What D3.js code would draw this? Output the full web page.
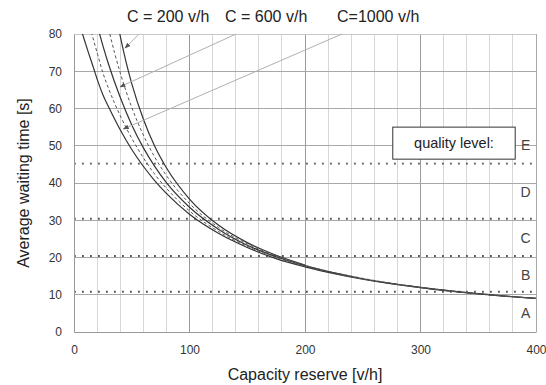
<!DOCTYPE html>
<html><head><meta charset="utf-8">
<script src="https://cdn.jsdelivr.net/npm/d3@7"></script>
<style>
html,body{margin:0;padding:0;background:#fff;}
svg{display:block;font-family:"Liberation Sans",Arial,sans-serif;}
</style></head>
<body><svg id="chart" width="546" height="385"></svg>
<script>
// ---- data ----
const xTicks = [0, 100, 200, 300, 400];
const yTicks = [0, 10, 20, 30, 40, 50, 60, 70, 80];
const xGrid = [20,40,60,80,100,120,140,160,180,200,220,240,260,280,300,320,340,360,380];
const yGrid = [10,20,30,40,50,60,70];
const levelLimits = [10.8, 20.4, 30.4, 45.2];
const levelNames = ["A","B","C","D","E"];
const levelPos = [5.2, 15.4, 25.2, 37.6, 50.2];
const titleLabels = ["C = 200 v/h", "C = 600 v/h", "C=1000 v/h"];

// solid curves: C = 200, 600, 1000 v/h ; dashed: C = 400, 800 v/h
const reserveC200 = [39,40,45,50,60,70,80,100,125,150,175,200];
const waitC200    = [81.0,79.5,72.6,66.7,57.2,49.8,44.1,35.7,28.7,24.0,20.6,18.0];
const reserveC400 = [31,35,40,50,60,70,80,100,125,150,175,200,250,300,350,400];
const waitC400    = [80.0,75.1,69.6,60.3,52.9,46.9,42.0,34.5,28.1,23.7,20.4,17.9,14.4,12.0,10.3,9.0];
const reserveC600 = [22,25,30,40,50,60,70,80,100,125,150,175,200,250,300,350,400];
const waitC600    = [80.2,76.9,71.8,63.0,55.6,49.5,44.4,40.1,33.5,27.6,23.3,20.2,17.8,14.3,12.0,10.3,9.0];
const reserveC800 = [15,17,21,25,30,40,50,60,70,80,100,125,150,175,200,250,300,350,400];
const waitC800    = [80.5,78.3,73.9,69.6,65.3,58.1,52.0,46.8,42.3,38.6,32.5,27.0,23.0,20.0,17.6,14.2,11.9,10.2,9.0];
const reserveC1000 = [7,9,12.5,17,21,25,30,40,50,60,70,80,100,125,150,175,200,250,300,350,400];
const waitC1000    = [80.4,78.4,75.0,70.8,67.0,63.7,60.4,54.3,49.0,44.5,40.6,37.2,31.6,26.5,22.7,19.7,17.5,14.2,11.9,10.2,9.0];

// annotation arrows [fromR, fromW, toR, toW]
const arrowFrom = [[55.4,79.7],[140.3,80],[232,80]];
const arrowTo   = [[44.2,76.2],[39.8,65.8],[42.7,54.5]];
const boxCorner = [[276,55.0],[382,46.4]];

// ---- drawing ----
const svg = d3.select("#chart");
const x = d3.scaleLinear().domain([0,400]).range([74,536]);
const y = d3.scaleLinear().domain([0,80]).range([332,34]);

svg.append("defs").append("clipPath").attr("id","plot")
  .append("rect").attr("x",x(0)).attr("y",y(80)).attr("width",x(400)-x(0)).attr("height",y(0)-y(80));

// vertical grid
svg.append("g").selectAll("line").data(xGrid).join("line")
  .attr("x1",d=>x(d)).attr("x2",d=>x(d)).attr("y1",y(0)).attr("y2",y(80))
  .attr("stroke",d=>d%100===0?"#9a9a9a":"#d6d6d6").attr("stroke-width",1).attr("shape-rendering","crispEdges");
// horizontal grid
svg.append("g").selectAll("line").data(yGrid).join("line")
  .attr("x1",x(0)).attr("x2",x(400)).attr("y1",d=>y(d)).attr("y2",d=>y(d))
  .attr("stroke","#a8a8a8").attr("stroke-width",1).attr("shape-rendering","crispEdges");
// frame
svg.append("line").attr("x1",x(0)).attr("x2",x(400)).attr("y1",y(80)).attr("y2",y(80)).attr("stroke","#c8c8c8").attr("shape-rendering","crispEdges");
svg.append("line").attr("x1",x(400)).attr("x2",x(400)).attr("y1",y(0)).attr("y2",y(80)).attr("stroke","#aaa").attr("shape-rendering","crispEdges");

// dotted level lines
svg.append("g").selectAll("line").data(levelLimits).join("line")
  .attr("x1",x(0)).attr("x2",x(400)).attr("y1",d=>y(d)).attr("y2",d=>y(d))
  .attr("stroke","#555").attr("stroke-width",1.8).attr("stroke-dasharray","1.8,6.2");

// axes
const yAxis = svg.append("g").attr("transform",`translate(${x(0)},0)`)
  .call(d3.axisLeft(y).tickValues(yTicks).tickSize(0).tickPadding(12));
yAxis.select(".domain").attr("stroke","#999");
yAxis.selectAll("text").attr("font-size",12).attr("fill","#333").attr("font-family","Liberation Sans, Arial, sans-serif");
const xAxis = svg.append("g").attr("transform",`translate(0,${y(0)})`)
  .call(d3.axisBottom(x).tickValues(xTicks).tickSize(0).tickPadding(13));
xAxis.select(".domain").attr("stroke","#999");
xAxis.selectAll("text").attr("font-size",12).attr("fill","#333").attr("font-family","Liberation Sans, Arial, sans-serif");

// curves
const line = d3.line().x(d=>x(d[0])).y(d=>y(d[1])).curve(d3.curveMonotoneX);
const curves = [
  {r:reserveC200, w:waitC200, dash:null},
  {r:reserveC600, w:waitC600, dash:null},
  {r:reserveC1000, w:waitC1000, dash:null},
  {r:reserveC400, w:waitC400, dash:"3,2.5"},
  {r:reserveC800, w:waitC800, dash:"3,2.5"}
];
const cg = svg.append("g").attr("clip-path","url(#plot)");
curves.forEach(c=>{
  cg.append("path").datum(c.r.map((r,i)=>[r,c.w[i]]))
    .attr("d",line).attr("fill","none")
    .attr("stroke",c.dash?"#555":"#333").attr("stroke-width",c.dash?1:1.2)
    .attr("stroke-dasharray",c.dash);
});

// arrows
svg.append("defs").append("marker").attr("id","ah").attr("viewBox","0 0 10 10")
  .attr("refX",9).attr("refY",5).attr("markerWidth",6).attr("markerHeight",6).attr("orient","auto")
  .append("path").attr("d","M0,1L10,5L0,9z").attr("fill","#555");
svg.append("g").selectAll("line").data(arrowFrom).join("line")
  .attr("x1",d=>x(d[0])).attr("y1",d=>y(d[1]))
  .attr("x2",(d,i)=>x(arrowTo[i][0])).attr("y2",(d,i)=>y(arrowTo[i][1]))
  .attr("stroke","#b0b0b0").attr("stroke-width",1).attr("marker-end","url(#ah)");

// level letters
svg.append("g").selectAll("text").data(levelNames).join("text")
  .attr("x",x(391)).attr("y",(d,i)=>y(levelPos[i])).attr("dy","0.35em")
  .attr("text-anchor","middle").attr("font-size",14).attr("fill","#444").text(d=>d);

// quality level box
svg.append("rect").attr("x",x(boxCorner[0][0])).attr("y",y(boxCorner[0][1]))
  .attr("width",x(boxCorner[1][0])-x(boxCorner[0][0])).attr("height",y(boxCorner[1][1])-y(boxCorner[0][1]))
  .attr("fill","#fff").attr("stroke","#333").attr("stroke-width",1);
svg.append("text").attr("x",(x(boxCorner[0][0])+x(boxCorner[1][0]))/2)
  .attr("y",(y(boxCorner[0][1])+y(boxCorner[1][1]))/2).attr("dy","0.35em")
  .attr("text-anchor","middle").attr("font-size",14.5).attr("fill","#222").text("quality level:");

// title
const titleX = [127, 225, 337];
svg.append("g").selectAll("text").data(titleLabels).join("text")
  .attr("x",(d,i)=>titleX[i]).attr("y",22).attr("font-size",16).attr("fill","#222").text(d=>d);

// axis titles
svg.append("text").attr("x",(x(0)+x(400))/2).attr("y",380).attr("text-anchor","middle")
  .attr("font-size",16).attr("fill","#222").text("Capacity reserve [v/h]");
svg.append("text").attr("transform",`translate(29,${(y(0)+y(80))/2}) rotate(-90)`).attr("text-anchor","middle")
  .attr("font-size",16).attr("fill","#222").text("Average waiting time [s]");
</script></body></html>
